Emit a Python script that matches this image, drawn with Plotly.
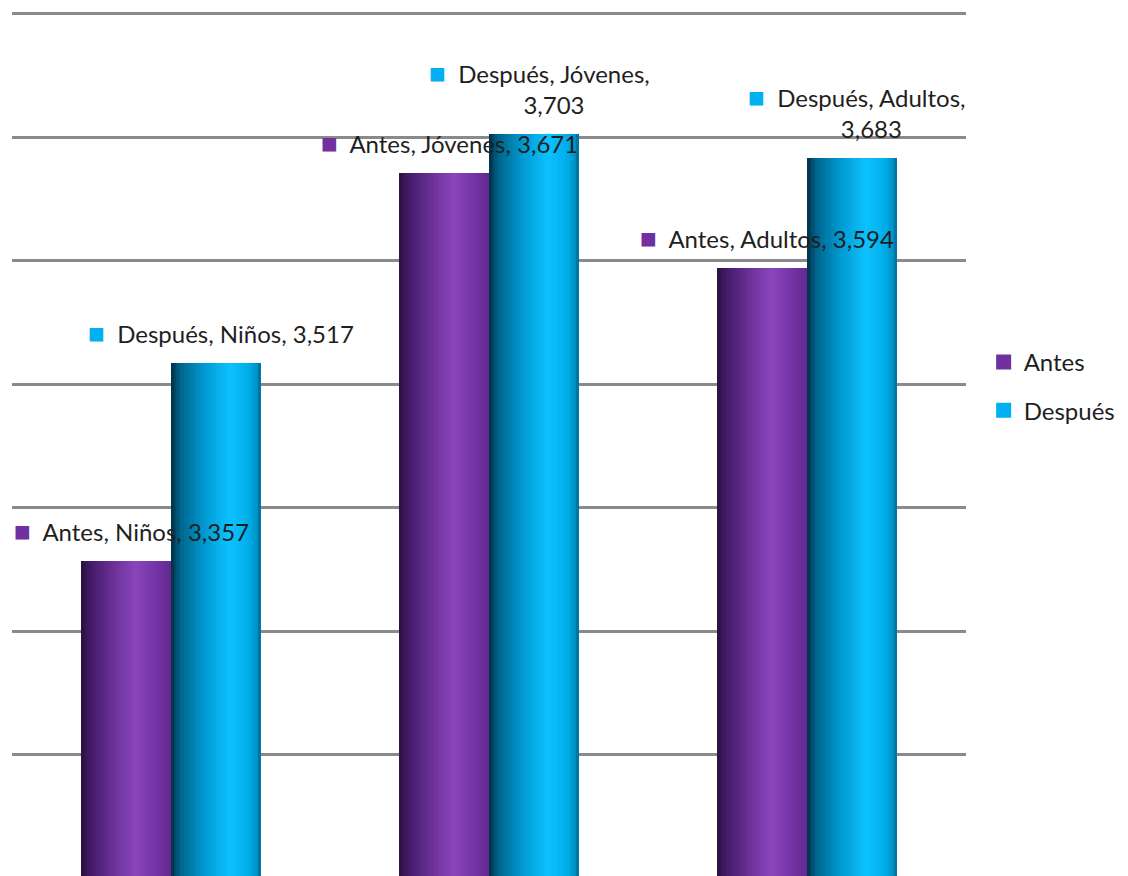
import plotly.graph_objects as go

# Data
categories = ["Niños", "Jóvenes", "Adultos"]
series_names = ["Antes", "Después"]
antes = [3.357, 3.671, 3.594]
despues = [3.517, 3.703, 3.683]
values = [antes, despues]

# Styling
base_colors = ["#7030A0", "#00B0F0"]
# horizontal shading profile across each cylinder-like bar (position, rgb)
shading = [
    [(0.0, (42, 18, 62)), (0.12, (70, 28, 108)), (0.35, (105, 48, 150)),
     (0.6, (138, 70, 188)), (0.8, (118, 54, 168)), (1.0, (98, 40, 145))],
    [(0.0, (0, 48, 68)), (0.1, (0, 100, 140)), (0.35, (0, 150, 205)),
     (0.65, (12, 194, 255)), (0.88, (0, 172, 232)), (0.97, (0, 140, 190)),
     (1.0, (0, 100, 140))],
]
FONT = "Lato, 'Open Sans', sans-serif"
TEXT_COLOR = "#1f1f1f"

BAR_W = 0.283      # width of a single bar in category units
N_STRIPS = 36


def shade(profile, t):
    for (t0, c0), (t1, c1) in zip(profile, profile[1:]):
        if t0 <= t <= t1:
            f = (t - t0) / (t1 - t0) if t1 > t0 else 0
            r, g, b = (round(a + (b_ - a) * f) for a, b_ in zip(c0, c1))
            return f"rgb({r},{g},{b})"
    r, g, b = profile[-1][1]
    return f"rgb({r},{g},{b})"


x_pos = list(range(len(categories)))
fig = go.Figure()

sw = BAR_W / N_STRIPS
for s, vals in enumerate(values):
    start = -BAR_W if s == 0 else 0.0
    for k in range(N_STRIPS):
        t = (k + 0.5) / N_STRIPS
        w = sw * (1.6 if k < N_STRIPS - 1 else 1.0)
        fig.add_trace(go.Bar(
            x=x_pos, y=vals, width=w, offset=start + k * sw,
            marker=dict(color=shade(shading[s], t), line=dict(width=0)),
            showlegend=False, hoverinfo="skip",
        ))

# legend entries
for s, name in enumerate(series_names):
    fig.add_trace(go.Scatter(
        x=[None], y=[None], mode="markers", name=name, legendgroup=name,
        marker=dict(symbol="square", size=15, color=base_colors[s]),
    ))


def fmt(v):
    return f"{v:.3f}".replace(".", ",")


# two-line labels wrap after the category
wrap = {(1, 1), (1, 2)}
for s, vals in enumerate(values):
    for i, v in enumerate(vals):
        cx = x_pos[i] + (-BAR_W / 2 if s == 0 else BAR_W / 2)
        mark = f"<span style='color:{base_colors[s]};font-size:28px'>■</span>  "
        ghost = "<span style='color:rgba(0,0,0,0);font-size:28px'>■</span>  "
        if (s, i) in wrap:
            txt = f"{mark}{series_names[s]}, {categories[i]},<br>{ghost}{fmt(v)}"
        else:
            txt = f"{mark}{series_names[s]}, {categories[i]}, {fmt(v)}"
        fig.add_annotation(
            x=cx, y=v, xref="x", yref="y", text=txt, showarrow=False,
            xanchor="center", yanchor="bottom", align="center",
            xshift=5, yshift=12,
            font=dict(family=FONT, size=24, color=TEXT_COLOR),
        )

fig.update_layout(
    width=1128, height=876,
    margin=dict(l=12, r=162, t=0, b=0),
    paper_bgcolor="white", plot_bgcolor="white",
    barmode="overlay", bargap=0,
    showlegend=True,
    legend=dict(
        x=1.0185, y=0.612, xanchor="left", yanchor="top",
        font=dict(family=FONT, size=24, color=TEXT_COLOR),
        tracegroupgap=14, bgcolor="rgba(0,0,0,0)",
    ),
    xaxis=dict(range=[-0.5, 2.5], showticklabels=False, showgrid=False,
               zeroline=False, showline=False, ticks=""),
    yaxis=dict(range=[3.102, 3.8113], tick0=0, dtick=0.1,
               showticklabels=False, showgrid=True,
               gridcolor="#8a8a8a", gridwidth=2.5, zeroline=False,
               showline=False, ticks=""),
)

fig.write_html("out.html")
